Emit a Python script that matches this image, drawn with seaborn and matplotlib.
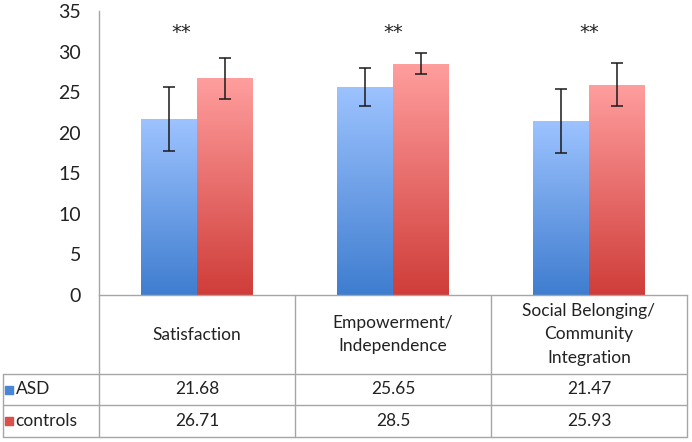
import numpy as np
import pandas as pd
import matplotlib
matplotlib.use("Agg")
import matplotlib.pyplot as plt
from matplotlib.colors import LinearSegmentedColormap
import seaborn as sns

# ── data ─────────────────────────────────────────────
categories = ["Satisfaction", "Empowerment/\nIndependence",
              "Social Belonging/\nCommunity\nIntegration"]
groups = ["ASD", "controls"]
asd_means = [21.68, 25.65, 21.47]
ctrl_means = [26.71, 28.5, 25.93]
asd_err = [3.9, 2.3, 3.95]
ctrl_err = [2.5, 1.3, 2.6]
star_labels = ["**", "**", "**"]
star_y = 32.4
y_ticks = [0, 5, 10, 15, 20, 25, 30, 35]

df = pd.DataFrame({
    "Category": categories * 2,
    "Group": [groups[0]] * 3 + [groups[1]] * 3,
    "Mean": asd_means + ctrl_means,
})

sns.set_style("white")
plt.rcParams['font.family'] = ['Lato', 'DejaVu Sans']

W, H = 692, 442
fig = plt.figure(figsize=(W / 100, H / 100), dpi=100)
ax = fig.add_axes([99 / W, (H - 295) / H, 588 / W, 284 / H])

grad = {
    "ASD": LinearSegmentedColormap.from_list("b", ["#3f7dcf", "#9dc3ff"]),
    "controls": LinearSegmentedColormap.from_list("r", ["#cf3d39", "#ff9e9e"]),
}
solid = {"ASD": "#4a86d8", "controls": "#d9504c"}

sns.barplot(data=df, x="Category", y="Mean", hue="Group", order=categories,
            hue_order=groups, width=0.571, errorbar=None, legend=False, ax=ax,
            palette=solid, linewidth=0)

errs = {"ASD": asd_err, "controls": ctrl_err}
g = np.linspace(0, 1, 256).reshape(-1, 1)
for cont, grp in zip(ax.containers, groups):
    for bar, e in zip(cont, errs[grp]):
        x0, w, h = bar.get_x(), bar.get_width(), bar.get_height()
        im = ax.imshow(g, cmap=grad[grp], origin="lower", aspect="auto",
                       extent=[x0, x0 + w, 0, h], zorder=2)
        im.set_clip_path(bar)
        bar.set_facecolor("none")
        ax.errorbar(x0 + w / 2, h, yerr=e, color="#1a1a1a", lw=1.1,
                    capsize=4.5, capthick=1.1, zorder=3)

star_dx = [-0.08, 0.0, 0.0]
for i, s in enumerate(star_labels):
    ax.text(i + star_dx[i], star_y, s, ha="center", va="center",
            fontsize=14, color="#222222", family="DejaVu Sans")

ax.set_xlim(-0.5, 2.5)
ax.set_ylim(0, 35)
ax.set_yticks(y_ticks)
ax.set_xticks([])
ax.set_xlabel("")
ax.set_ylabel("")
ax.tick_params(axis="y", length=0, pad=13, labelsize=14, labelcolor="#222222")
for side in ["top", "right"]:
    ax.spines[side].set_visible(False)
for side in ["left", "bottom"]:
    ax.spines[side].set_color("#a6a6a6")
    ax.spines[side].set_linewidth(1.0)

# ── data table under the axis ─────────────────────────
tax = fig.add_axes([3 / W, 5 / H, 684 / W, 142 / H])
xmin = -0.5 - 96 / 196
tax.set_xlim(xmin, 2.5)
tax.set_ylim(0, 142)
tax.axis("off")
lc, lw = "#a6a6a6", 1.0
for xv in [-0.5, 0.5, 1.5, 2.5]:
    tax.plot([xv, xv], [0, 142], color=lc, lw=lw, clip_on=False)
tax.plot([xmin, xmin], [0, 63], color=lc, lw=lw, clip_on=False)
for yv in [0, 32, 63]:
    tax.plot([xmin, 2.5], [yv, yv], color=lc, lw=lw, clip_on=False)

for i, c in enumerate(categories):
    tax.text(i, 102.5, c, ha="center", va="center", fontsize=12.5,
             color="#222222", linespacing=1.6)

rows = [(groups[0], asd_means, 47.5), (groups[1], ctrl_means, 16)]
for name, vals, yc in rows:
    tax.scatter([xmin + 0.03], [yc], marker="s", s=34, color=solid[name],
                clip_on=False)
    tax.text(xmin + 0.065, yc, name, ha="left", va="center", fontsize=12.5,
             color="#222222")
    for i, v in enumerate(vals):
        tax.text(i, yc, f"{v:g}", ha="center", va="center", fontsize=12.5,
                 color="#222222")

fig.savefig("out.png", dpi=100)
